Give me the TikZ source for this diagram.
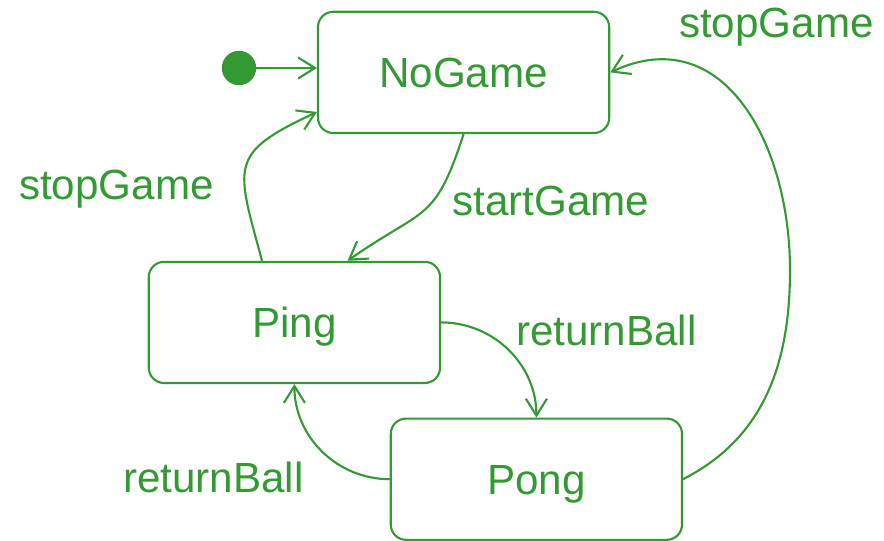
\documentclass[tikz,border=0pt]{standalone}
\usepackage{fontspec}
\setmainfont{Liberation Sans}
\usetikzlibrary{arrows.meta}
\definecolor{umlgreen}{RGB}{51,153,51}
\tikzset{->,>={Straight Barb[length=12pt,width=15pt]},
  state/.style={draw,rounded corners=0.38cm,minimum width=7.28cm,minimum height=3.03cm,
    text height=21.5pt,text depth=0pt},
  lbl/.style={anchor=base west,inner sep=0pt}}

\begin{document}
\begin{tikzpicture}[color=umlgreen,line width=1.5pt,every node/.style={font=\fontsize{30}{36}\selectfont}]
  \useasboundingbox (0,0) rectangle (22.1,-13.5);

  \node[state] (nogame) at (11.59,-1.81) {NoGame};
  \node[state] (ping) at (7.36,-8.06) {Ping};
  \node[state] (pong) at (13.41,-11.98) {Pong};

  \fill (5.975,-1.7) circle (0.43cm);
  \coordinate (init) at (6.4,-1.7);
  \coordinate (turn) at (19.75,-6.75);

  \node[lbl] (l1) at (16.95,-0.93) {stopGame};
  \node[lbl] (l2) at (11.28,-5.38) {startGame};
  \node[lbl] (l3) at (0.45,-4.98) {stopGame};
  \node[lbl] (l4) at (12.88,-8.63) {returnBall};
  \node[lbl] (l5) at (3.05,-12.3) {returnBall};

  \path
  (init) edge (nogame.west |- init)
  (nogame.south) edge [out=252,in=35,looseness=1.4] ([xshift=1.33cm]ping.north)
  ([xshift=-0.81cm]ping.north) edge [out=105,in=205,looseness=1.6] ([yshift=-0.99cm]nogame.west)
  (ping.east) edge [out=0,in=90] (pong.north)
  (pong.west) edge [out=180,in=270] (ping.south)
  ;
  \draw (pong.east) to[out=27,in=-90] (turn) to[out=90,in=25,looseness=1.2] (nogame.east);
\end{tikzpicture}
\end{document}
